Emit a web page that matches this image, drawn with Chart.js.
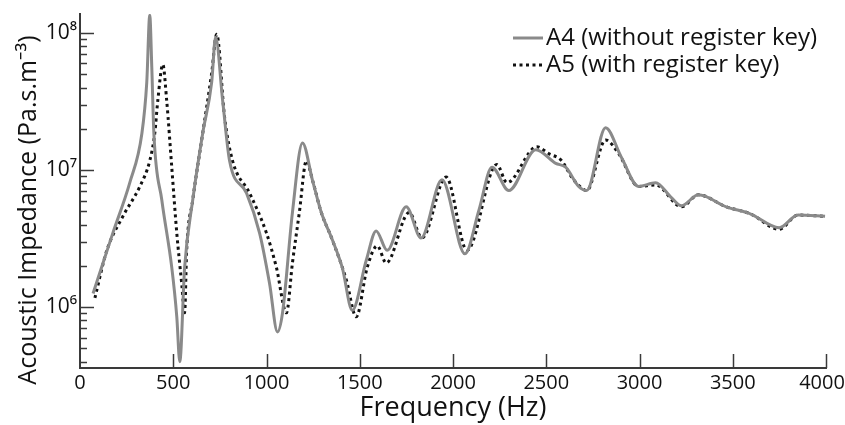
<!DOCTYPE html>
<html>
<head>
<meta charset="utf-8">
<title>Acoustic impedance A4 / A5</title>
<script src="https://cdn.jsdelivr.net/npm/chart.js@4.4.1/dist/chart.umd.min.js"></script>
<style>
  html, body { margin: 0; padding: 0; background: #fff; }
  #wrap { width: 845px; height: 425px; position: relative; }
</style>
</head>
<body>
<div id="wrap"><canvas id="impedanceChart"></canvas></div>
<script>
// A4 - without register key (solid grey)
const freqA4 = [70, 176, 267, 332, 358, 374, 385, 396, 439, 492, 519, 535,
  561, 604, 658, 706, 727, 765, 802, 893, 963, 1016, 1059,
  1086, 1139, 1193, 1246, 1294, 1353, 1406, 1460,
  1535, 1588, 1647, 1749, 1829, 1941, 2064, 2139, 2209, 2299, 2444,
  2551, 2604, 2674, 2717, 2818, 2904, 2995, 3086, 3171, 3225, 3316,
  3465, 3594, 3749, 3850, 3995];
const impA4 = [1.26e6, 3.47e6, 8.1e6, 1.86e7, 4.37e7, 1.35e8, 5.6e7, 1.86e7, 6.0e6, 1.95e6, 8.5e5, 4.0e5,
  1.95e6, 6.0e6, 1.86e7, 4.37e7, 9.3e7, 3.2e7, 1.17e7, 6.8e6, 3.47e6, 1.5e6, 6.6e5,
  9.1e5, 4.9e6, 1.58e7, 8.5e6, 4.9e6, 3.1e6, 1.95e6, 9.5e5,
  2.2e6, 3.6e6, 2.6e6, 5.4e6, 3.2e6, 8.5e6, 2.45e6, 5.1e6, 1.05e7, 7.1e6, 1.41e7,
  1.12e7, 1.05e7, 7.6e6, 7.1e6, 2.04e7, 1.23e7, 7.6e6, 8.1e6, 6.3e6, 5.5e6, 6.6e6,
  5.4e6, 4.8e6, 3.8e6, 4.7e6, 4.6e6];

// A5 - with register key (dotted black)
const freqA5 = [80, 144, 230, 321, 374, 401, 417, 444, 465, 492, 519, 545, 561,
  572, 604, 658, 706, 733, 775, 818, 909, 1000, 1053, 1107,
  1139, 1176, 1214, 1246, 1294, 1353, 1428, 1481,
  1540, 1594, 1642, 1765, 1834, 1963, 2075, 2235, 2289, 2449, 2513, 2583,
  2636, 2690, 2717, 2818, 2888, 2995, 3086, 3225, 3316, 3465, 3594, 3749, 3850, 3995];
const impA5 = [1.17e6, 2.6e6, 4.6e6, 7.6e6, 1.17e7, 1.86e7, 3.2e7, 5.9e7, 3.2e7, 1.05e7, 3.47e6, 1.5e6, 9.1e5,
  2.6e6, 6.0e6, 1.86e7, 5.1e7, 9.8e7, 2.45e7, 1.17e7, 6.8e6, 3.47e6, 1.95e6, 9.1e5,
  2.1e6, 4.9e6, 1.17e7, 8.5e6, 4.9e6, 3.1e6, 1.58e6, 8.5e5,
  1.95e6, 2.8e6, 2.1e6, 4.9e6, 3.2e6, 8.9e6, 2.6e6, 1.1e7, 8.1e6, 1.48e7, 1.32e7, 1.17e7,
  8.9e6, 7.4e6, 7.1e6, 1.66e7, 1.32e7, 7.6e6, 7.8e6, 5.4e6, 6.6e6, 5.4e6, 4.8e6, 3.7e6, 4.7e6, 4.6e6];

const seriesNames = ["A4 (without register key)", "A5 (with register key)"];
const xTickValues = [0, 500, 1000, 1500, 2000, 2500, 3000, 3500, 4000];
const yMajorValues = [1e6, 1e7, 1e8];
const yMajorLabels = ["10\u2076", "10\u2077", "10\u2078"];
const xTitle = "Frequency (Hz)";
const yTitle = "Acoustic Impedance (Pa.s.m\u207B\u00B3)";

const FONT = "'Open Sans', 'Noto Sans', sans-serif";
const TEXT = "#111";
const AXIS = "#3a3a3a";
const GREY = "#8a8a8a";
const DASH = [3, 3.5];

const toPoints = (xs, ys) => xs.map((f, i) => ({ x: f, y: ys[i] }));

// log-axis ticks: every 1..9 x 10^n between min and max
function logTicks(min, max) {
  const out = [];
  for (let e = Math.floor(Math.log10(min)); e <= Math.ceil(Math.log10(max)); e++) {
    for (let m = 1; m < 10; m++) {
      const v = m * Math.pow(10, e);
      if (v >= min && v <= max) out.push({ value: v });
    }
  }
  return out;
}
const isMajor = v => yMajorValues.some(m => Math.abs(m - v) / m < 1e-9);

// inward tick marks, like the original figure
const innerTicks = {
  id: "innerTicks",
  beforeDraw(chart) {
    // keep the "4000" label inside the canvas
    const items = chart.scales.x.getLabelItems();
    const last = items[items.length - 1];
    if (last) last.options.translation[0] = Math.min(last.options.translation[0], chart.width - 23);
  },
  afterDatasetsDraw(chart) {
    const { ctx, chartArea, scales: { x, y } } = chart;
    ctx.save();
    ctx.strokeStyle = AXIS;
    ctx.lineWidth = 1.5;
    y.ticks.forEach(t => {
      const py = Math.round(y.getPixelForValue(t.value)) + 0.5;
      const len = isMajor(t.value) ? 14 : 7;
      ctx.beginPath();
      ctx.moveTo(chartArea.left, py);
      ctx.lineTo(chartArea.left + len, py);
      ctx.stroke();
    });
    x.ticks.forEach(t => {
      if (t.value === 0) return;
      const px = Math.round(x.getPixelForValue(t.value)) + 0.5;
      ctx.beginPath();
      ctx.moveTo(px, chartArea.bottom);
      ctx.lineTo(px, chartArea.bottom - 14);
      ctx.stroke();
    });
    ctx.restore();
  }
};

// legend in the top right + rotated y title
const annotations = {
  id: "annotations",
  afterDraw(chart) {
    const { ctx } = chart;
    const ds = chart.data.datasets;
    ctx.save();
    ctx.font = "24px " + FONT;
    ctx.textBaseline = "middle";
    ctx.fillStyle = TEXT;
    [38, 65].forEach((ly, i) => {
      ctx.beginPath();
      ctx.strokeStyle = ds[i].borderColor;
      ctx.lineWidth = ds[i].borderWidth;
      ctx.setLineDash(ds[i].borderDash || []);
      ctx.moveTo(513, ly);
      ctx.lineTo(543, ly);
      ctx.stroke();
      ctx.setLineDash([]);
      ctx.fillText(ds[i].label, 546, ly);
    });
    ctx.translate(29, 210);
    ctx.rotate(-Math.PI / 2);
    ctx.textAlign = "center";
    ctx.font = "25px " + FONT;
    ctx.fillText(yTitle, 0, 0);
    ctx.restore();
  }
};

new Chart(document.getElementById("impedanceChart"), {
  type: "line",
  data: {
    datasets: [
      {
        label: seriesNames[0],
        data: toPoints(freqA4, impA4),
        borderColor: GREY,
        borderWidth: 3,
        pointRadius: 0,
        cubicInterpolationMode: "monotone",
        fill: false
      },
      {
        label: seriesNames[1],
        data: toPoints(freqA5, impA5),
        borderColor: "#111",
        borderWidth: 3,
        borderDash: DASH,
        borderCapStyle: "butt",
        pointRadius: 0,
        cubicInterpolationMode: "monotone",
        fill: false
      }
    ]
  },
  options: {
    responsive: true,
    maintainAspectRatio: false,
    animation: false,
    layout: { padding: { top: 14, right: 19, left: 0, bottom: 0 } },
    plugins: {
      legend: { display: false },
      tooltip: { enabled: false }
    },
    scales: {
      x: {
        type: "linear",
        min: 0,
        max: 4000,
        afterBuildTicks: s => { s.ticks = xTickValues.map(v => ({ value: v })); },
        afterFit: s => { s.height = 57; s.paddingLeft = 0; s.paddingRight = 0; },
        grid: { display: false, drawTicks: false },
        border: { display: true, color: AXIS, width: 2 },
        ticks: {
          color: TEXT,
          font: { family: FONT, size: 20 },
          padding: 3,
          maxRotation: 0,
          callback: v => String(v)
        },
        title: { display: true, text: xTitle, color: TEXT, font: { family: FONT, size: 27 }, padding: 0 }
      },
      y: {
        type: "logarithmic",
        min: 3.6e5,
        max: 1.377e8,
        afterBuildTicks: s => { s.ticks = logTicks(3.6e5, 1.377e8); },
        afterFit: s => { s.width = 80; s.paddingTop = 0; s.paddingBottom = 0; },
        grid: { display: false, drawTicks: false },
        border: { display: true, color: AXIS, width: 2 },
        ticks: {
          color: TEXT,
          font: { family: FONT, size: 21 },
          padding: 3,
          autoSkip: false,
          callback: v => {
            const i = yMajorValues.findIndex(m => Math.abs(m - v) / m < 1e-9);
            return i >= 0 ? yMajorLabels[i] : "";
          }
        }
      }
    }
  },
  plugins: [innerTicks, annotations]
});
</script>
</body>
</html>
